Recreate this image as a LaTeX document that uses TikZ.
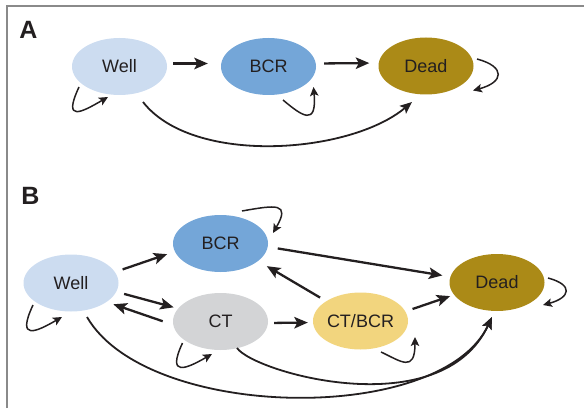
\documentclass[tikz,border=0pt]{standalone}
\usepackage{fontspec}
\setmainfont{Liberation Sans}
\usetikzlibrary{arrows.meta,shapes.geometric}
\definecolor{wellc}{HTML}{CCDCF0}
\definecolor{bcrc}{HTML}{74A6D8}
\definecolor{deadc}{HTML}{AB8A17}
\definecolor{ctc}{HTML}{D3D4D6}
\definecolor{ctbcrc}{HTML}{F2D57E}
\definecolor{ink}{HTML}{231F20}
\definecolor{framec}{HTML}{8A8A8A}

\begin{document}
\begin{tikzpicture}[x=1pt,y=1pt,
  state/.style={ellipse, minimum width=95pt, minimum height=57pt, inner sep=0pt,
                text=ink, font=\fontsize{18}{21}\selectfont},
  panel/.style={font=\bfseries\fontsize{25}{28}\selectfont, text=ink, inner sep=0pt},
  trans/.style={draw=ink, line width=2.3pt, -{Stealth[length=13.5pt,width=11.5pt,inset=3pt]}},
  curved/.style={draw=ink, line width=1.8pt, -{Stealth[length=12pt,width=10pt,inset=2.5pt]}},
  selfloop/.style={draw=ink, line width=1.5pt, -{Stealth[length=9pt,width=8.5pt,inset=2pt]}},
]
\useasboundingbox (0,0) rectangle (584,408);

% frame
\draw[framec, line width=1.6pt] (7,0) -- (7,401.7) -- (584,401.7);

% ---------- panel A: three-state model ----------
\node[panel] (labA) at (28.5,378.5) {A};
\node[state, fill=wellc]  (wellA) at (119.5,341.5) {Well};
\node[state, fill=bcrc]   (bcrA)  at (268.5,341.5) {BCR};
\node[state, fill=deadc]  (deadA) at (426,342)     {Dead};

\draw[trans, shorten <=6pt, shorten >=13pt] ([yshift=3pt]wellA.east) -- ([yshift=3pt]bcrA.west);
\draw[trans, shorten <=8pt, shorten >=9pt]  ([yshift=3pt]bcrA.east)  -- ([yshift=3pt]deadA.west);

\draw[selfloop] ([shift={(-40.5,-20.5)}]wellA.center) .. controls +(245:40) and +(210:30) .. ([shift={(-11.5,-30.5)}]wellA.center);
\draw[selfloop] ([shift={(14.5,-33.5)}]bcrA.center) .. controls +(-40:25) and +(275:40) .. ([shift={(45,-20.5)}]bcrA.center);
\draw[selfloop] ([shift={(51,7)}]deadA.center) .. controls +(-15:30) and +(15:32) .. ([shift={(47,-24.5)}]deadA.center);

\draw[curved] ([shift={(23.5,-35.5)}]wellA.center) .. controls +(-52:81) and +(220:81) .. ([shift={(-14,-36)}]deadA.center);

% ---------- panel B: five-state model ----------
\node[panel] (labB) at (30.5,212.5) {B};
\node[state, fill=wellc]  (wellB)  at (71,125)     {Well};
\node[state, fill=bcrc]   (bcrB)   at (220.5,164.5) {BCR};
\node[state, fill=ctc]    (ctB)    at (220.5,86.5)  {CT};
\node[state, fill=ctbcrc] (ctbcrB) at (360.5,87)    {CT/BCR};
\node[state, fill=deadc]  (deadB)  at (497,125.5)   {Dead};

\draw[trans, shorten <=8pt, shorten >=8pt]    (wellB.14)   -- (bcrB.190);
\draw[trans, shorten <=8pt, shorten >=4.5pt]  (wellB.349)  -- (ctB.163);
\draw[trans, shorten <=11pt, shorten >=7pt]   (ctB.184)    -- (wellB.332);
\draw[trans, shorten <=6pt, shorten >=5pt]    ([yshift=-1.5pt]ctB.east) -- ([yshift=-1.5pt]ctbcrB.west);
\draw[trans, shorten <=7pt, shorten >=10pt]   (ctbcrB.150) -- (bcrB.335);
\draw[trans, shorten <=10pt, shorten >=8pt]   (bcrB.356)   -- (deadB.173);
\draw[trans, shorten <=7.5pt, shorten >=4pt]  (ctbcrB.12)  -- (deadB.196);

\draw[selfloop] ([shift={(-38,-22)}]wellB.center) .. controls +(245:40) and +(210:30) .. ([shift={(-9,-34)}]wellB.center);
\draw[selfloop] ([shift={(-38,-21.5)}]ctB.center) .. controls +(245:38) and +(210:30) .. ([shift={(-8.5,-32.5)}]ctB.center);
\draw[selfloop] ([shift={(21.5,32.5)}]bcrB.center) .. controls +(10:35) and +(60:35) .. ([shift={(52.5,10.5)}]bcrB.center);
\draw[selfloop] ([shift={(20.5,-31)}]ctbcrB.center) .. controls +(-25:22) and +(270:36) .. ([shift={(54.5,-16)}]ctbcrB.center);
\draw[selfloop] ([shift={(51,4.5)}]deadB.center) .. controls +(-15:27) and +(15:28) .. ([shift={(46,-22.5)}]deadB.center);

\draw[curved] ([shift={(16,-34)}]wellB.center) .. controls +(-60:120) and +(245:120) .. ([shift={(-5,-34.5)}]deadB.center);
\draw[curved] ([shift={(16.5,-26.5)}]ctB.center) .. controls +(-55:30) and +(245:120) .. ([shift={(-5,-34.5)}]deadB.center);
\end{tikzpicture}
\end{document}
